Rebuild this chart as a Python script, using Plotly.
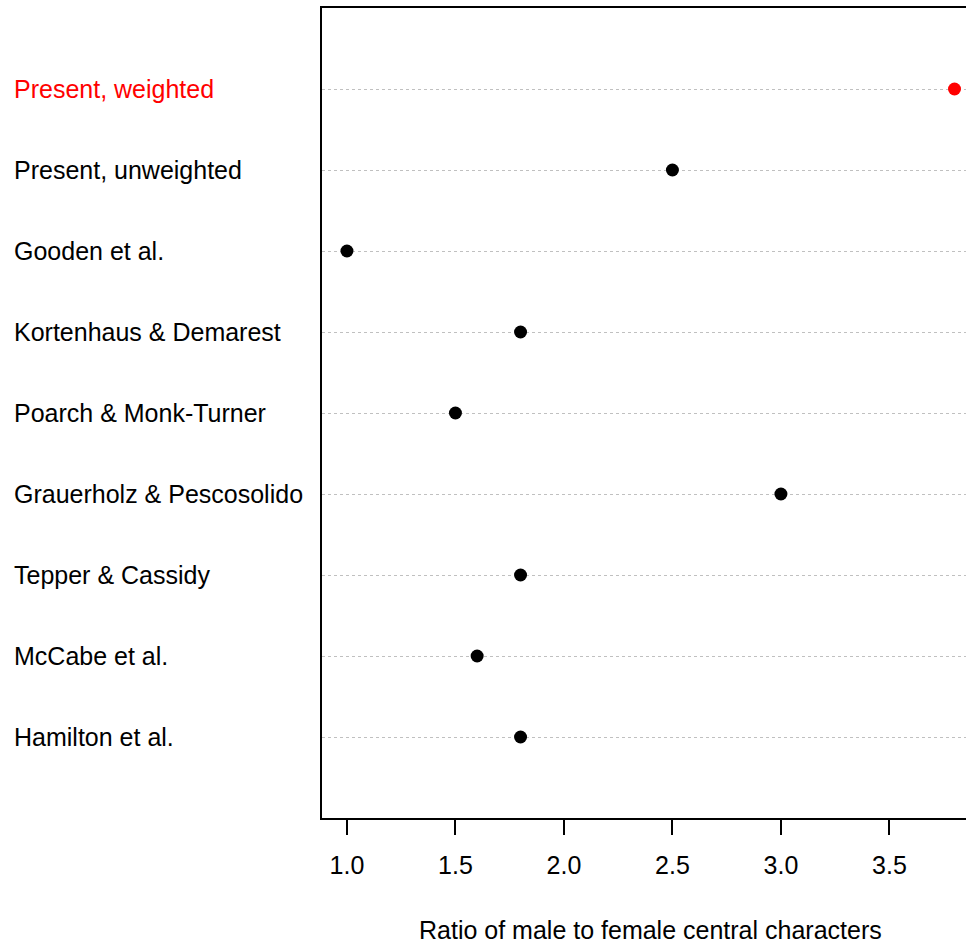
import plotly.graph_objects as go

# Studies, listed bottom to top as they appear on the dot chart
studies = [
    "Hamilton et al.",
    "McCabe et al.",
    "Tepper & Cassidy",
    "Grauerholz & Pescosolido",
    "Poarch & Monk-Turner",
    "Kortenhaus & Demarest",
    "Gooden et al.",
    "Present, unweighted",
    "Present, weighted",
]
ratios = [1.8, 1.6, 1.8, 3.0, 1.5, 1.8, 1.0, 2.5, 3.8]
highlight = "Present, weighted"

x_ticks = [1.0, 1.5, 2.0, 2.5, 3.0, 3.5]
x_title = "Ratio of male to female central characters"

FONT = "Liberation Sans, Arial, sans-serif"
FS = 25
rows = list(range(1, len(studies) + 1))
colors = ["#ff0000" if s == highlight else "#000000" for s in studies]

fig = go.Figure()
fig.add_trace(go.Scatter(
    x=ratios, y=rows, mode="markers",
    marker=dict(size=13, color=colors, line=dict(width=0)),
    hoverinfo="skip", showlegend=False,
))

# left-aligned row labels
for s, r, c in zip(studies, rows, colors):
    fig.add_annotation(
        x=(12 - 322) / 644, xref="paper", y=r, yref="y", text=s, showarrow=False,
        xanchor="left", yanchor="middle", font=dict(family=FONT, size=FS, color=c),
    )

fig.add_annotation(
    x=(650 - 322) / 644, xref="paper", y=-(930 - 818) / 810, yref="paper",
    text=x_title, showarrow=False, xanchor="center", yanchor="middle",
    font=dict(family=FONT, size=FS, color="#000000"),
)

fig.update_layout(
    width=966, height=944,
    margin=dict(l=322, r=0, t=8, b=126),
    paper_bgcolor="white", plot_bgcolor="white",
    font=dict(family=FONT, size=FS, color="#000000"),
    xaxis=dict(
        range=[0.885, 3.853], tickvals=x_ticks,
        ticktext=[f"{v:.1f}" for v in x_ticks],
        ticks="outside", ticklen=15, tickwidth=1.5, tickcolor="#000000",
        showline=True, linecolor="#000000", linewidth=1.5, mirror=True,
        showgrid=False, zeroline=False, ticklabelstandoff=9,
        tickfont=dict(family=FONT, size=FS, color="#000000"),
    ),
    yaxis=dict(
        range=[0, 10], tickvals=rows, showticklabels=False, ticks="",
        showline=True, linecolor="#000000", linewidth=1.5, mirror=False,
        showgrid=True, gridcolor="#c0c0c0", gridwidth=1, griddash="dot",
        zeroline=False,
    ),
)

fig.write_html("out.html")
